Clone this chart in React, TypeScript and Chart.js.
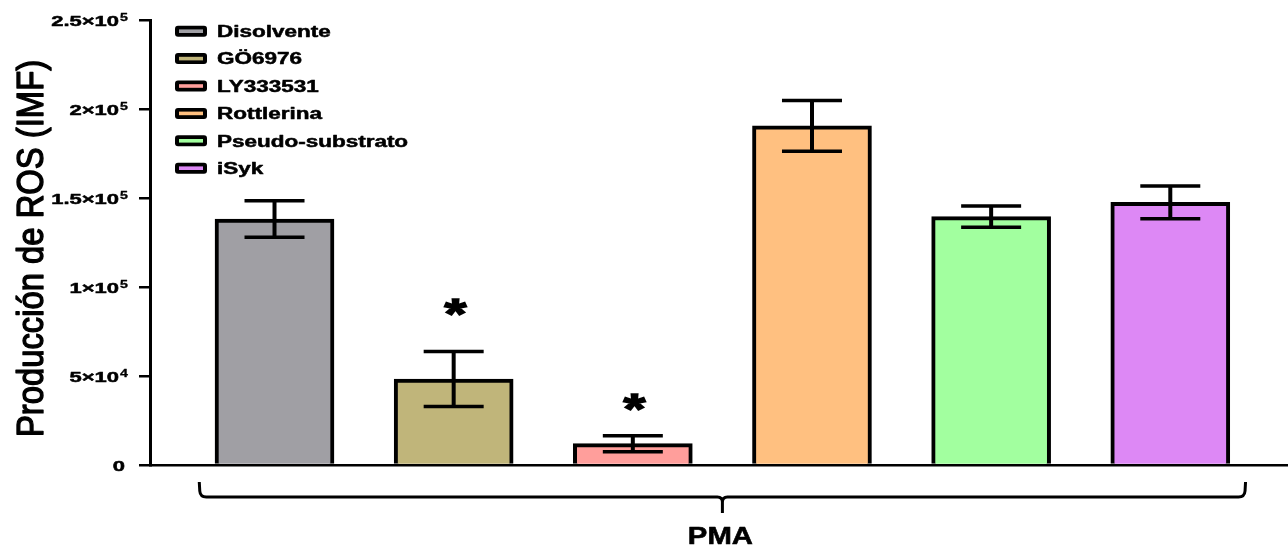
import React, { useEffect, useRef } from "react";
import { Chart, registerables } from "chart.js";

Chart.register(...registerables);

// ---- data ----
const categories = ["Disolvente", "GÖ6976", "LY333531", "Rottlerina", "Pseudo-substrato", "iSyk"];
const meanValues = [138200, 48300, 12000, 190500, 139500, 147500];
const semValues = [10200, 15400, 4500, 14300, 6000, 9200];
const significance = ["", "*", "*", "", "", ""];
const significanceY = [null, 88800, 35700, null, null, null];
const barColors = ["#a09fa4", "#c0b57a", "#ff9e9b", "#ffc080", "#a2ff9f", "#dd88f5"];
const yTickValues = [0, 50000, 100000, 150000, 200000, 250000];
const yTickLabels = ["0", "5×10^4", "1×10^5", "1.5×10^5", "2×10^5", "2.5×10^5"];
const yAxisTitle = "Producción de ROS (IMF)";
const groupLabel = "PMA";

const FONT = '"Liberation Sans", Arial, Helvetica, sans-serif';

function stretchedText(ctx: CanvasRenderingContext2D, text: string, x: number, y: number, font: string, sx: number, sy: number, align: CanvasTextAlign, stroke = 0) {
  ctx.save();
  ctx.translate(x, y);
  ctx.scale(sx, sy);
  ctx.font = font;
  ctx.textAlign = align;
  ctx.textBaseline = "alphabetic";
  ctx.fillStyle = "#000";
  ctx.fillText(text, 0, 0);
  if (stroke > 0) {
    ctx.strokeStyle = "#000";
    ctx.lineWidth = stroke;
    ctx.lineJoin = "round";
    ctx.strokeText(text, 0, 0);
  }
  ctx.restore();
}

const decorPlugin = {
  id: "decor",
  afterDatasetsDraw(chart: any) {
    const ctx: CanvasRenderingContext2D = chart.ctx;
    const xs = chart.scales.x;
    const ys = chart.scales.y;
    ctx.save();
    ctx.strokeStyle = "#000";
    ctx.lineCap = "butt";
    categories.forEach((_, i) => {
      const cx = xs.getPixelForValue(i);
      const top = ys.getPixelForValue(meanValues[i] + semValues[i]);
      const bot = ys.getPixelForValue(meanValues[i] - semValues[i]);
      ctx.lineWidth = 4;
      ctx.beginPath();
      ctx.moveTo(cx, top);
      ctx.lineTo(cx, bot);
      ctx.stroke();
      ctx.lineWidth = 3.5;
      ctx.beginPath();
      ctx.moveTo(cx - 30, top);
      ctx.lineTo(cx + 30, top);
      ctx.moveTo(cx - 30, bot);
      ctx.lineTo(cx + 30, bot);
      ctx.stroke();
      // significance marks
      const mark = significance[i];
      const sy = significanceY[i];
      if (mark && sy !== null) {
        const py = ys.getPixelForValue(sy);
        ctx.save();
        ctx.font = "bold 40px " + FONT;
        ctx.textAlign = "left";
        ctx.textBaseline = "alphabetic";
        const m = ctx.measureText(mark);
        const L = m.actualBoundingBoxLeft, R = m.actualBoundingBoxRight;
        const A = m.actualBoundingBoxAscent, D = m.actualBoundingBoxDescent;
        const scx = 22.5 / (L + R);
        const scy = 17 / (A + D);
        ctx.translate(cx + 2, py);
        ctx.scale(scx, scy);
        ctx.fillStyle = "#000";
        ctx.fillText(mark, -(R - L) / 2, -(D - A) / 2);
        ctx.strokeStyle = "#000";
        ctx.lineWidth = 1.5;
        ctx.strokeText(mark, -(R - L) / 2, -(D - A) / 2);
        ctx.restore();
      }
    });
    ctx.restore();
  },
  afterDraw(chart: any) {
    const ctx: CanvasRenderingContext2D = chart.ctx;
    const xs = chart.scales.x;
    const ys = chart.scales.y;

    // y tick labels with superscript exponents
    yTickValues.forEach((v, i) => {
      const y = ys.getPixelForValue(v);
      const parts = yTickLabels[i].split("^");
      const sxT = 1.42;
      if (parts.length === 1) {
        stretchedText(ctx, parts[0], 125, y + 5.7, "bold 15.5px " + FONT, sxT, 1, "right", 0.5);
      } else {
        ctx.save();
        ctx.font = "bold 15.5px " + FONT;
        const w1 = ctx.measureText(parts[0]).width * sxT;
        ctx.font = "bold 10px " + FONT;
        const w2 = ctx.measureText(parts[1]).width * sxT;
        ctx.restore();
        const right = 128;
        const start = right - w2 - 1 - w1;
        stretchedText(ctx, parts[0], start, y + 5.7, "bold 15.5px " + FONT, sxT, 1, "left", 0.5);
        stretchedText(ctx, parts[1], start + w1 + 1, y + 0.7, "bold 10px " + FONT, sxT, 1, "left", 0.3);
      }
    });

    // y axis title
    ctx.save();
    ctx.translate(43, 248.5);
    ctx.rotate(-Math.PI / 2);
    ctx.scale(1.093, 1.256);
    ctx.font = "30px " + FONT;
    ctx.textAlign = "center";
    ctx.textBaseline = "alphabetic";
    ctx.fillStyle = "#000";
    ctx.fillText(yAxisTitle, 0, 0);
    ctx.strokeStyle = "#000";
    ctx.lineWidth = 1.1;
    ctx.lineJoin = "round";
    ctx.strokeText(yAxisTitle, 0, 0);
    ctx.restore();

    // legend
    categories.forEach((c, i) => {
      const cy = 31.2 + 27.4 * i;
      ctx.save();
      ctx.fillStyle = "#000";
      ctx.beginPath();
      (ctx as any).roundRect(175, cy - 5.5, 32, 11, 3);
      ctx.fill();
      ctx.fillStyle = barColors[i];
      ctx.fillRect(179, cy - 1.8, 24, 3.6);
      ctx.restore();
      stretchedText(ctx, c, 217, cy + 5.8, "bold 16px " + FONT, 1.405, 1, "left", 0.5);
    });

    // group brace
    const L = xs.getPixelForValue(-0.42);
    const R = xs.getPixelForValue(categories.length - 1 + 0.42);
    const C = (L + R) / 2;
    const yTop = 482, yH = 497, yTip = 513;
    ctx.save();
    ctx.strokeStyle = "#000";
    ctx.lineWidth = 3;
    ctx.lineJoin = "round";
    ctx.beginPath();
    ctx.moveTo(L, yTop);
    ctx.lineTo(L + 0.5, yH - 6);
    ctx.quadraticCurveTo(L + 1, yH, L + 7, yH);
    ctx.lineTo(C - 5, yH);
    ctx.quadraticCurveTo(C, yH, C, yH + 5);
    ctx.lineTo(C, yTip);
    ctx.moveTo(C, yH + 5);
    ctx.quadraticCurveTo(C, yH, C + 5, yH);
    ctx.lineTo(R - 7, yH);
    ctx.quadraticCurveTo(R - 1, yH, R - 0.5, yH - 6);
    ctx.lineTo(R, yTop);
    ctx.stroke();
    ctx.restore();

    stretchedText(ctx, groupLabel, C - 2, 544, "bold 24px " + FONT, 1.22, 1, "center", 0.6);
  },
};

export default function App() {
  const canvasRef = useRef<HTMLCanvasElement | null>(null);

  useEffect(() => {
    const canvas = canvasRef.current;
    if (!canvas) return;
    const chart = new Chart(canvas, {
      type: "bar",
      data: {
        datasets: [
          {
            label: "ROS",
            data: categories.map((_, i) => ({ x: i, y: meanValues[i] })),
            backgroundColor: barColors,
            borderColor: "#000",
            borderWidth: 4,
            borderSkipped: "start",
            barThickness: 119,
          } as any,
        ],
      },
      options: {
        animation: false,
        responsive: false,
        devicePixelRatio: 1,
        layout: { padding: { top: 20, bottom: 81, left: 0, right: 0 } },
        plugins: {
          legend: { display: false },
          tooltip: { enabled: false },
        },
        scales: {
          x: {
            type: "linear",
            offset: false,
            bounds: "data",
            min: -0.695,
            max: categories.length - 1 + 0.657,
            grid: { display: false, offset: false },
            ticks: { display: false },
            border: { display: true, color: "#000", width: 2.5 },
            afterBuildTicks: (s: any) => {
              s.ticks = categories.map((_, i) => ({ value: i }));
            },
            afterFit: (s: any) => {
              s.height = 0;
            },
          },
          y: {
            type: "linear",
            min: 0,
            max: 250000,
            grid: { display: true, drawOnChartArea: false, drawTicks: true, tickLength: 11, color: "#000", lineWidth: 2.5 },
            ticks: { display: false },
            border: { display: true, color: "#000", width: 3 },
            afterBuildTicks: (s: any) => {
              s.ticks = yTickValues.map((v) => ({ value: v }));
            },
            afterFit: (s: any) => {
              s.width = 150;
            },
          },
        },
      } as any,
      plugins: [decorPlugin],
    });
    return () => chart.destroy();
  }, []);

  return (
    <div style={{ position: "fixed", left: 0, top: 0, width: 1288, height: 546, background: "#fff" }}>
      <canvas ref={canvasRef} width={1288} height={546} style={{ display: "block" }} />
    </div>
  );
}
